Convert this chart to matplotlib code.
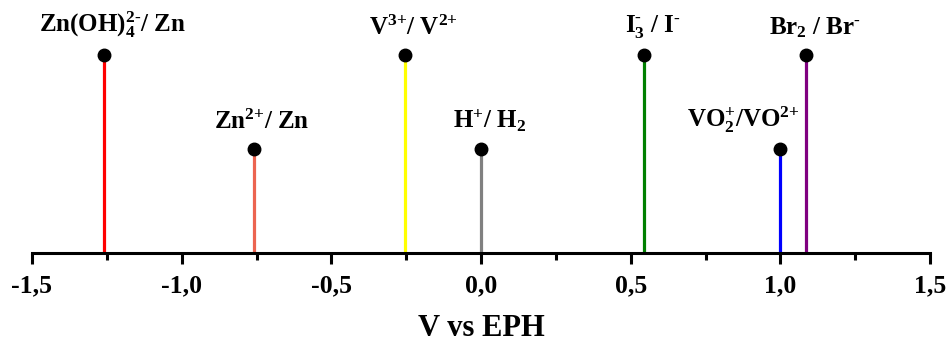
import numpy as np
import matplotlib
matplotlib.use("Agg")
import matplotlib.pyplot as plt

# redox couples, potential (V vs EPH), bar level, colour
couples = [r"Zn(OH)$_4^{\text{2-}}$/ Zn", r"Zn$^{\text{2+}}$/ Zn",
           r"V$^{\text{3+}}$/ V$^{\text{2+}}$", r"H$^{\text{+}}$/ H$_2$",
           r"I$_3^{\text{-}}$ / I$^{\text{-}}$",
           r"VO$_2^{\text{+}}$/VO$^{\text{2+}}$", r"Br$_2$ / Br$^{\text{-}}$"]
potentials = [-1.26, -0.76, -0.255, 0.0, 0.545, 1.0, 1.087]
levels = [1.9, 1.0, 1.9, 1.0, 1.9, 1.0, 1.9]
colors = ["#ff0000", "#ec6450", "#ffff00", "#808080", "#008000", "#0000ff", "#800080"]

xticks = [-1.5, -1.0, -0.5, 0.0, 0.5, 1.0, 1.5]
xtick_labels = ["-1,5", "-1,0", "-0,5", "0,0", "0,5", "1,0", "1,5"]

plt.rcParams["font.family"] = "Liberation Serif"
plt.rcParams["font.weight"] = "bold"
plt.rcParams["mathtext.fontset"] = "custom"
plt.rcParams["mathtext.rm"] = "Liberation Serif:bold"
plt.rcParams["mathtext.it"] = "Liberation Serif:bold"
plt.rcParams["mathtext.bf"] = "Liberation Serif:bold"

fig = plt.figure(figsize=(9.52, 3.58), dpi=100)
ax = fig.add_axes([32 / 952, 1 - 253 / 358, 898 / 952, 243 / 358])

ax.vlines(potentials, 0, levels, colors=colors, linewidth=2.3, zorder=2)
ax.plot(potentials, levels, "o", color="black", markersize=9, zorder=3)

for name, x, y in zip(couples, potentials, levels):
    if name.startswith("VO"):
        ax.annotate(name, (x, y), xytext=(14, 10), textcoords="offset points",
                    ha="right", va="bottom", fontsize=18, fontweight="bold")
    else:
        ax.annotate(name, (x, y), xytext=(6, 11), textcoords="offset points",
                    ha="center", va="bottom", fontsize=18, fontweight="bold")

ax.set_xlim(-1.5, 1.5)
ax.set_ylim(0, 243 / 104)
ax.set_xticks(xticks)
ax.set_xticklabels(xtick_labels)
ax.set_xticks(np.arange(-1.25, 1.5, 0.5), minor=True)
ax.set_yticks([])
for s in ["top", "left", "right"]:
    ax.spines[s].set_visible(False)
ax.spines["bottom"].set_linewidth(2.2)
ax.tick_params(axis="x", which="major", length=8, width=2.2, labelsize=18.5, pad=7)
ax.tick_params(axis="x", which="minor", length=5, width=2.2)
ax.set_xlabel("V vs EPH", fontsize=22, fontweight="bold", labelpad=12)

fig.savefig("out.png", dpi=100)
